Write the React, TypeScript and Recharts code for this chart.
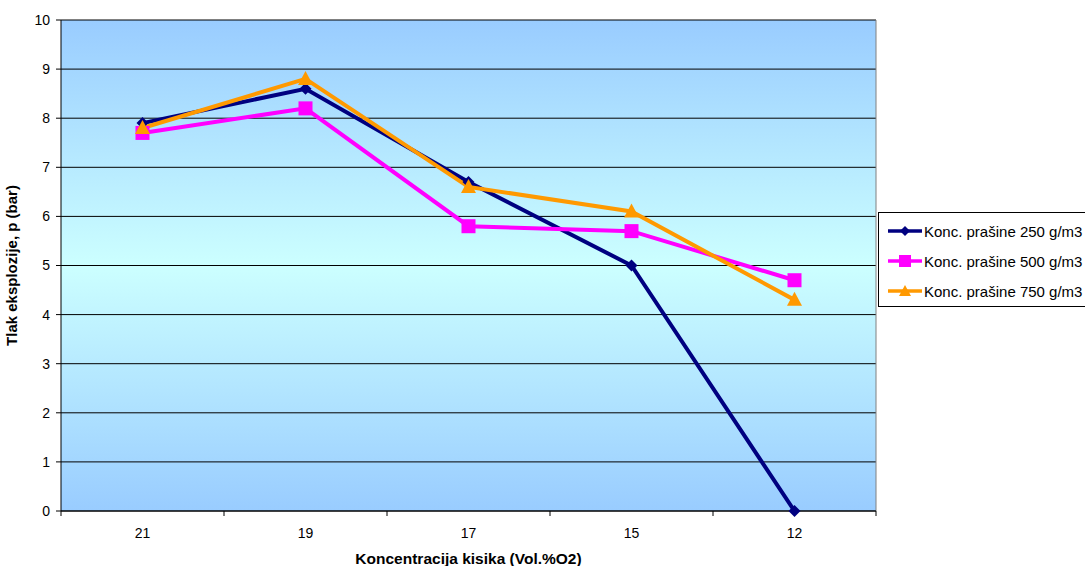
import { LineChart, Line, XAxis, YAxis, CartesianGrid, ReferenceLine } from "recharts";

const categories = ["21", "19", "17", "15", "12"];
const prah250 = [7.9, 8.6, 6.7, 5.0, 0];
const prah500 = [7.7, 8.2, 5.8, 5.7, 4.7];
const prah750 = [7.8, 8.8, 6.6, 6.1, 4.3];
const yTicks = [0, 1, 2, 3, 4, 5, 6, 7, 8, 9, 10];
const legendNames = ["Konc. prašine 250 g/m3", "Konc. prašine 500 g/m3", "Konc. prašine 750 g/m3"];

const data = categories.map((c, i) => ({
  x: i + 0.5,
  label: c,
  s250: prah250[i],
  s500: prah500[i],
  s750: prah750[i],
}));

const xTicks = [0, 0.5, 1, 1.5, 2, 2.5, 3, 3.5, 4, 4.5, 5];

const FONT = "'Liberation Sans', Arial, sans-serif";
const NAVY = "#000080";
const MAGENTA = "#FF00FF";
const ORANGE = "#FF9900";

// eslint-disable-next-line @typescript-eslint/no-explicit-any
const Diamond = (p: any) => {
  const { cx, cy } = p;
  if (cx == null || cy == null) return null;
  return <path key={p.index} d={`M${cx},${cy - 6}L${cx + 6},${cy}L${cx},${cy + 6}L${cx - 6},${cy}Z`} fill={NAVY} />;
};

// eslint-disable-next-line @typescript-eslint/no-explicit-any
const Square = (p: any) => {
  const { cx, cy } = p;
  if (cx == null || cy == null) return null;
  return <rect key={p.index} x={cx - 7} y={cy - 7} width={14} height={14} fill={MAGENTA} />;
};

// eslint-disable-next-line @typescript-eslint/no-explicit-any
const Triangle = (p: any) => {
  const { cx, cy } = p;
  if (cx == null || cy == null) return null;
  return <path key={p.index} d={`M${cx},${cy - 8}L${cx + 7.5},${cy + 6}L${cx - 7.5},${cy + 6}Z`} fill={ORANGE} />;
};

// eslint-disable-next-line @typescript-eslint/no-explicit-any
const XTick = (p: any) => {
  const { x, y, payload } = p;
  const v = payload.value as number;
  if (Number.isInteger(v)) {
    return <line x1={x} y1={y} x2={x} y2={y + 5} stroke="#000" />;
  }
  return (
    <text x={x} y={y + 27} textAnchor="middle" fontSize={14} fontFamily={FONT} fill="#000">
      {categories[Math.floor(v)]}
    </text>
  );
};

function LegendBox() {
  const items = [
    { name: legendNames[0], color: NAVY, marker: <path d="M17,1L22,6L17,11L12,6Z" fill={NAVY} /> },
    { name: legendNames[1], color: MAGENTA, marker: <rect x={11} y={0} width={12} height={12} fill={MAGENTA} /> },
    { name: legendNames[2], color: ORANGE, marker: <path d="M17,0L23,11L11,11Z" fill={ORANGE} /> },
  ];
  return (
    <div
      style={{
        position: "absolute",
        left: 878,
        top: 212,
        width: 230,
        height: 95,
        border: "1px solid #000",
        background: "#fff",
        fontFamily: FONT,
        fontSize: 15,
        boxSizing: "border-box",
        paddingTop: 3,
      }}
    >
      {items.map((it) => (
        <div key={it.name} style={{ display: "flex", alignItems: "center", height: 30, paddingLeft: 9 }}>
          <svg width={36} height={12}>
            <line x1={0} y1={6} x2={34} y2={6} stroke={it.color} strokeWidth={3.5} />
            {it.marker}
          </svg>
          <span style={{ whiteSpace: "nowrap" }}>{it.name}</span>
        </div>
      ))}
    </div>
  );
}

export default function App() {
  return (
    <div style={{ position: "absolute", left: 0, top: 0, width: 1085, height: 566, background: "#fff", overflow: "hidden" }}>
      <LineChart width={1085} height={566} data={data} margin={{ top: 20, right: 209, bottom: 0, left: 0 }}>
        <defs>
          <linearGradient id="plotBg" x1="0" y1="0" x2="0" y2="1">
            <stop offset="0%" stopColor="#99CCFF" />
            <stop offset="50%" stopColor="#CCFFFF" />
            <stop offset="100%" stopColor="#99CCFF" />
          </linearGradient>
        </defs>
        <CartesianGrid vertical={false} stroke="#000" fill="url(#plotBg)" fillOpacity={1} />
        <XAxis
          type="number"
          dataKey="x"
          domain={[0, 5]}
          ticks={xTicks}
          interval={0}
          height={55}
          tickLine={false}
          tickSize={0}
          tickMargin={0}
          axisLine={{ stroke: "#000" }}
          tick={XTick}
          label={{ value: "Koncentracija kisika (Vol.%O2)", position: "insideBottom", offset: 2, fontSize: 15.5, fontWeight: "bold", fontFamily: FONT, fill: "#000" }}
        />
        <YAxis
          domain={[0, 10]}
          ticks={yTicks}
          interval={0}
          width={61}
          tickSize={5}
          tickMargin={6}
          tickLine={{ stroke: "#000" }}
          axisLine={{ stroke: "#000" }}
          tick={{ fontSize: 14, fontFamily: FONT, fill: "#000" }}
          label={{ value: "Tlak eksplozije, p (bar)", angle: -90, position: "insideLeft", offset: 12, fontSize: 15, fontWeight: "bold", fontFamily: FONT, fill: "#000", style: { textAnchor: "middle" } }}
        />
        <ReferenceLine x={5} stroke="#808080" />
        <Line dataKey="s250" stroke={NAVY} strokeWidth={4} dot={Diamond} activeDot={false} isAnimationActive={false} />
        <Line dataKey="s500" stroke={MAGENTA} strokeWidth={4} dot={Square} activeDot={false} isAnimationActive={false} />
        <Line dataKey="s750" stroke={ORANGE} strokeWidth={4} dot={Triangle} activeDot={false} isAnimationActive={false} />
      </LineChart>
      <LegendBox />
    </div>
  );
}
